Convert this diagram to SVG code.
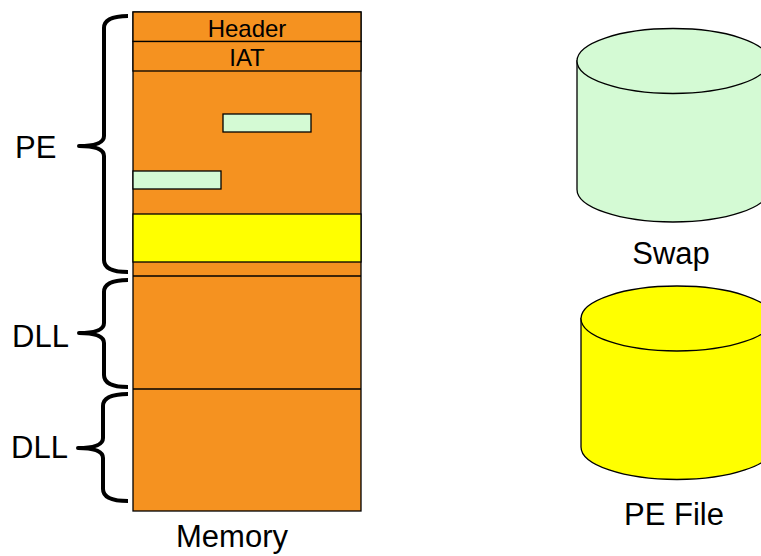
<svg xmlns="http://www.w3.org/2000/svg" width="761" height="556" viewBox="0 0 761 556">
<style>
.seg{fill:#f59220;stroke:#000;stroke-width:1.3}
.yel{fill:#ffff00;stroke:#000;stroke-width:1.3}
.grn{fill:#d4fad4;stroke:#000;stroke-width:1.3}
.brace{fill:none;stroke:#000;stroke-width:4;stroke-linejoin:round}
.t{font-family:"Liberation Sans",Arial,sans-serif;fill:#000}
.big{font-size:31px}
.small{font-size:24px}
</style>
<rect width="761" height="556" fill="#fff"/>
<g id="memory">
<rect class="seg" x="133" y="12" width="228" height="499"/>
<rect class="seg" x="133" y="12" width="228" height="29.5"/>
<rect class="seg" x="133" y="41.5" width="228" height="29.5"/>
<rect class="yel" x="133" y="214" width="228" height="48"/>
<line x1="133" y1="276" x2="361" y2="276" stroke="#000" stroke-width="1.3"/>
<line x1="133" y1="389" x2="361" y2="389" stroke="#000" stroke-width="1.3"/>
<rect class="grn" x="223" y="114" width="88" height="18"/>
<rect class="grn" x="133" y="171" width="88" height="18"/>
<text class="t small" x="247" y="37" text-anchor="middle">Header</text>
<text class="t small" x="247" y="66" text-anchor="middle">IAT</text>
<text class="t big" x="232" y="547" text-anchor="middle">Memory</text>
</g>
<g id="brace-pe">
<path class="brace" d="M128,16 Q104,16 104,28 L104,136 Q104,146 79,146 Q104,146 104,156 L104,260 Q104,272 128,272"/>
<text class="t big" x="15" y="158">PE</text>
</g>
<g id="brace-dll1">
<path class="brace" d="M128,280 Q104,280 104,292 L104,323 Q104,333 79,333 Q104,333 104,343 L104,375 Q104,387 128,387"/>
<text class="t big" x="12" y="347">DLL</text>
</g>
<g id="brace-dll2">
<path class="brace" d="M128,394 Q103,394 103,406 L103,438 Q103,448 78,448 Q103,448 103,458 L103,489 Q103,501 128,501"/>
<text class="t big" x="11" y="458">DLL</text>
</g>
<g id="swap">
<path class="grn" d="M577,61 L577,189.5 A96,32.5 0 0 0 769,189.5 L769,61 Z"/>
<ellipse class="grn" cx="673" cy="61" rx="96" ry="32.5"/>
<text class="t big" x="671" y="264" text-anchor="middle">Swap</text>
</g>
<g id="pefile">
<path class="yel" d="M581,318.5 L581,447 A96,32.5 0 0 0 773,447 L773,318.5 Z"/>
<ellipse class="yel" cx="677" cy="318.5" rx="96" ry="32.5"/>
<text class="t big" x="674" y="525" text-anchor="middle">PE File</text>
</g>
<g id="connectors"></g>
</svg>
